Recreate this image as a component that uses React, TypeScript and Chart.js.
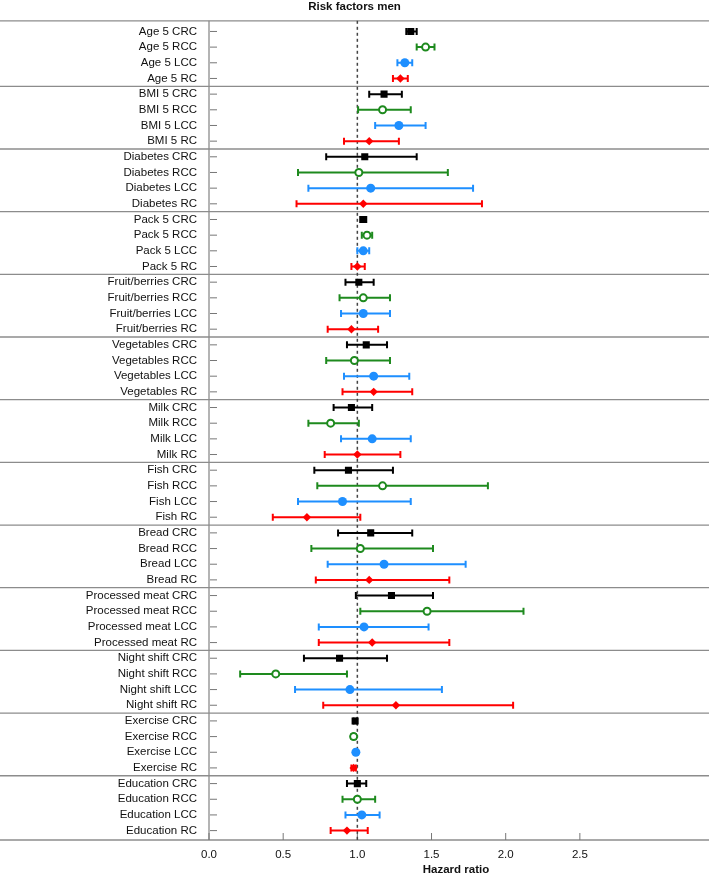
import React, { useEffect, useRef } from "react";
import { Chart, registerables } from "chart.js";
Chart.register(...registerables);

const factors = ["Age 5", "BMI 5", "Diabetes", "Pack 5", "Fruit/berries", "Vegetables", "Milk", "Fish", "Bread", "Processed meat", "Night shift", "Exercise", "Education"];
const subtypes = ["CRC", "RCC", "LCC", "RC"];

const crcHR = [1.36, 1.18, 1.05, 1.04, 1.01, 1.06, 0.96, 0.94, 1.09, 1.23, 0.88, 0.985, 1.0];
const crcLo = [1.33, 1.08, 0.79, 1.02, 0.92, 0.93, 0.84, 0.71, 0.87, 0.99, 0.64, 0.975, 0.93];
const crcHi = [1.40, 1.30, 1.40, 1.06, 1.11, 1.20, 1.10, 1.24, 1.37, 1.51, 1.20, 0.995, 1.06];

const rccHR = [1.46, 1.17, 1.01, 1.065, 1.04, 0.98, 0.82, 1.17, 1.02, 1.47, 0.45, 0.975, 1.0];
const rccLo = [1.40, 1.005, 0.60, 1.03, 0.88, 0.79, 0.67, 0.73, 0.69, 1.02, 0.21, 0.96, 0.9];
const rccHi = [1.52, 1.36, 1.61, 1.10, 1.22, 1.22, 1.01, 1.88, 1.51, 2.12, 0.93, 0.99, 1.12];

const lccHR = [1.32, 1.28, 1.09, 1.04, 1.04, 1.11, 1.10, 0.90, 1.18, 1.045, 0.95, 0.99, 1.03];
const lccLo = [1.27, 1.12, 0.67, 1.0, 0.89, 0.91, 0.89, 0.60, 0.80, 0.74, 0.58, 0.98, 0.92];
const lccHi = [1.37, 1.46, 1.78, 1.08, 1.22, 1.35, 1.36, 1.36, 1.73, 1.48, 1.57, 1.0, 1.15];

const rcHR = [1.29, 1.08, 1.04, 1.0, 0.96, 1.11, 1.0, 0.66, 1.08, 1.10, 1.26, 0.975, 0.93];
const rcLo = [1.24, 0.91, 0.59, 0.96, 0.80, 0.90, 0.78, 0.43, 0.72, 0.74, 0.77, 0.96, 0.82];
const rcHi = [1.34, 1.28, 1.84, 1.05, 1.14, 1.37, 1.29, 1.02, 1.62, 1.62, 2.05, 0.99, 1.07];

const xTicks = [0, 0.5, 1.0, 1.5, 2.0, 2.5];

const rowLabels: string[] = [];
factors.forEach((f) => subtypes.forEach((s) => rowLabels.push(f + " " + s)));

const seriesHR = [crcHR, rccHR, lccHR, rcHR];
const seriesLo = [crcLo, rccLo, lccLo, rcLo];
const seriesHi = [crcHi, rccHi, lccHi, rcHi];
const seriesColor = ["#000000", "#1e8a1e", "#1e8fff", "#ff0000"];

const framePlugin = {
  id: "frame",
  beforeDatasetsDraw(chart: any) {
    const { ctx, chartArea: a, scales } = chart;
    const x = scales.x;
    const y = scales.y;
    ctx.save();
    ctx.strokeStyle = "#8c8c8c";
    ctx.lineWidth = 1.3;
    const hl = (py: number) => {
      ctx.beginPath();
      ctx.moveTo(0, py);
      ctx.lineTo(chart.width, py);
      ctx.stroke();
    };
    hl(a.top);
    hl(a.bottom);
    for (let g = 1; g < factors.length; g++) hl(y.getPixelForValue(g * subtypes.length - 0.5));
    ctx.beginPath();
    ctx.moveTo(a.left, a.top);
    ctx.lineTo(a.left, a.bottom);
    ctx.stroke();
    // y tick marks
    ctx.lineWidth = 1;
    ctx.strokeStyle = "#777";
    rowLabels.forEach((_, i) => {
      const py = y.getPixelForValue(i);
      ctx.beginPath();
      ctx.moveTo(a.left + 1, py);
      ctx.lineTo(a.left + 8, py);
      ctx.stroke();
    });
    xTicks.forEach((v) => {
      const px = x.getPixelForValue(v);
      ctx.beginPath();
      ctx.moveTo(px, a.bottom);
      ctx.lineTo(px, a.bottom - 7);
      ctx.stroke();
    });
    // reference line
    ctx.strokeStyle = "#444";
    ctx.lineWidth = 1.5;
    ctx.setLineDash([3, 3]);
    const rx = x.getPixelForValue(1);
    ctx.beginPath();
    ctx.moveTo(rx, a.top);
    ctx.lineTo(rx, a.bottom);
    ctx.stroke();
    ctx.setLineDash([]);
    // error bars
    ctx.lineWidth = 2;
    seriesHR.forEach((_, s) => {
      ctx.strokeStyle = seriesColor[s];
      factors.forEach((__, f) => {
        const py = y.getPixelForValue(f * subtypes.length + s);
        const x1 = x.getPixelForValue(seriesLo[s][f]);
        const x2 = x.getPixelForValue(seriesHi[s][f]);
        ctx.beginPath();
        ctx.moveTo(x1, py);
        ctx.lineTo(x2, py);
        ctx.moveTo(x1, py - 3.5);
        ctx.lineTo(x1, py + 3.5);
        ctx.moveTo(x2, py - 3.5);
        ctx.lineTo(x2, py + 3.5);
        ctx.stroke();
      });
    });
    ctx.restore();
  },
};

export default function App() {
  const ref = useRef<HTMLCanvasElement>(null);
  useEffect(() => {
    Chart.defaults.font.family = "'Liberation Sans', Arial, sans-serif";
    const pointStyles = ["rect", "circle", "circle", "rectRot"];
    const radii = [5, 3.5, 4.5, 4.2];
    const datasets = seriesHR.map((hr, s) => ({
      label: subtypes[s],
      data: hr.map((v, f) => ({ x: v, y: f * subtypes.length + s })),
      pointStyle: pointStyles[s],
      pointRadius: radii[s],
      backgroundColor: s === 1 ? "#ffffff" : seriesColor[s],
      borderColor: seriesColor[s],
      borderWidth: s === 1 ? 2 : 0,
      showLine: false,
    }));
    const chart = new Chart(ref.current!, {
      type: "scatter",
      data: { datasets: datasets as any },
      plugins: [framePlugin],
      options: {
        animation: false,
        responsive: false,
        layout: { padding: 0 },
        plugins: {
          legend: { display: false },
          tooltip: { enabled: false },
          title: {
            display: true,
            text: "Risk factors men",
            color: "#111",
            font: { size: 11.5, weight: "bold" },
            padding: { top: 0, bottom: 7 },
          },
        },
        scales: {
          x: {
            type: "linear",
            min: 0,
            max: 3.33,
            afterBuildTicks: (s: any) => {
              s.ticks = xTicks.map((v) => ({ value: v }));
            },
            afterFit: (s: any) => {
              s.height = 35;
            },
            ticks: {
              callback: (v: any) => Number(v).toFixed(1),
              color: "#111",
              font: { size: 11.5 },
              padding: 8,
              autoSkip: false,
              maxRotation: 0,
            },
            grid: { display: false, drawTicks: false },
            border: { display: false },
            title: {
              display: true,
              text: "Hazard ratio",
              color: "#111",
              font: { size: 11.5, weight: "bold" },
              padding: { top: 0, bottom: -2 },
            },
          },
          y: {
            type: "linear",
            reverse: true,
            min: -0.68,
            max: 51.6,
            afterBuildTicks: (s: any) => {
              s.ticks = rowLabels.map((_, i) => ({ value: i }));
            },
            afterFit: (s: any) => {
              s.width = 209;
            },
            ticks: {
              callback: (v: any) => rowLabels[Math.round(Number(v))] ?? "",
              color: "#111",
              font: { size: 11.5 },
              padding: 12,
              autoSkip: false,
            },
            grid: { display: false, drawTicks: false },
            border: { display: false },
          },
        },
      } as any,
    });
    return () => chart.destroy();
  }, []);
  return (
    <div style={{ position: "absolute", left: 0, top: 0, width: 709, height: 875 }}>
      <canvas ref={ref} width={709} height={875} />
    </div>
  );
}
